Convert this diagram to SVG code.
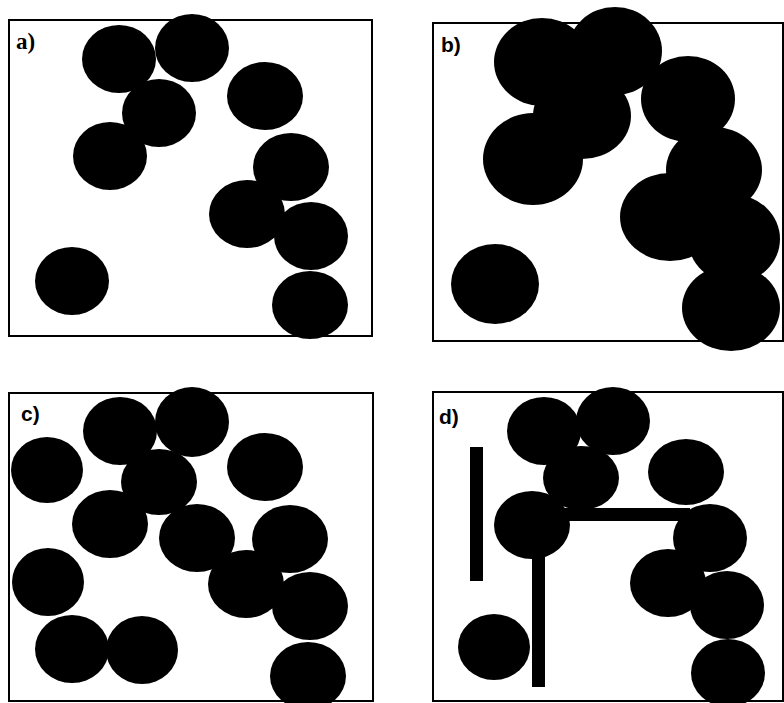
<svg xmlns="http://www.w3.org/2000/svg" width="784" height="703" viewBox="0 0 784 703">
<style>
.frame{fill:none;stroke:#000;stroke-width:2}
.p{fill:#000}
.bar{fill:#000}
.lbl{font-family:"Liberation Sans",Arial,sans-serif;font-weight:bold;font-size:21px;fill:#000}
.lbla{font-family:"Liberation Serif","Times New Roman",serif;font-weight:bold;font-size:23px;fill:#000}
</style>
<rect width="784" height="703" fill="#fff"/>
<g id="panel-a">
<rect class="frame" x="9" y="20" width="363" height="316"/>
<text class="lbla" x="16" y="49">a)</text>
<g class="p">
<ellipse cx="119" cy="59" rx="37" ry="34"/>
<ellipse cx="192" cy="48" rx="37" ry="34"/>
<ellipse cx="159" cy="113" rx="37" ry="34"/>
<ellipse cx="110" cy="156" rx="37" ry="34"/>
<ellipse cx="265" cy="96" rx="38" ry="34"/>
<ellipse cx="291" cy="167" rx="38" ry="34"/>
<ellipse cx="247" cy="214" rx="38" ry="34"/>
<ellipse cx="311" cy="236" rx="37" ry="34"/>
<ellipse cx="310" cy="305" rx="38" ry="34"/>
<ellipse cx="72" cy="281" rx="37" ry="34"/>
</g>
</g>
<g id="panel-b">
<rect class="frame" x="433" y="23" width="350" height="318"/>
<text class="lbl" x="441" y="52">b)</text>
<g class="p">
<ellipse cx="542" cy="62" rx="48" ry="44"/>
<ellipse cx="615" cy="51" rx="47" ry="44"/>
<ellipse cx="582" cy="116" rx="49" ry="43"/>
<ellipse cx="533" cy="159" rx="50" ry="46"/>
<ellipse cx="688" cy="99" rx="47" ry="43"/>
<ellipse cx="714" cy="170" rx="48" ry="43"/>
<ellipse cx="670" cy="217" rx="50" ry="44"/>
<ellipse cx="734" cy="239" rx="46" ry="44"/>
<ellipse cx="731" cy="308" rx="49" ry="43"/>
<ellipse cx="495" cy="284" rx="44" ry="40"/>
</g>
</g>
<g id="panel-c">
<rect class="frame" x="9" y="393" width="364" height="308"/>
<text class="lbl" x="21" y="421">c)</text>
<g class="p">
<ellipse cx="120" cy="431" rx="37" ry="34"/>
<ellipse cx="192" cy="422" rx="37" ry="35"/>
<ellipse cx="47" cy="470" rx="36" ry="33"/>
<ellipse cx="265" cy="467" rx="38" ry="34"/>
<ellipse cx="159" cy="482" rx="38" ry="33"/>
<ellipse cx="110" cy="524" rx="38" ry="34"/>
<ellipse cx="197" cy="538" rx="38" ry="34"/>
<ellipse cx="290" cy="539" rx="38" ry="34"/>
<ellipse cx="246" cy="584" rx="38" ry="34"/>
<ellipse cx="310" cy="606" rx="38" ry="34"/>
<ellipse cx="48" cy="582" rx="36" ry="34"/>
<ellipse cx="72" cy="649" rx="37" ry="34"/>
<ellipse cx="142" cy="650" rx="36" ry="34"/>
<ellipse cx="308" cy="676" rx="38" ry="34"/>
</g>
</g>
<g id="panel-d">
<rect class="frame" x="433" y="392" width="350" height="309"/>
<text class="lbl" x="439" y="424">d)</text>
<g class="p">
<ellipse cx="544" cy="431" rx="37" ry="34"/>
<ellipse cx="613" cy="421" rx="37" ry="34"/>
<ellipse cx="581" cy="478" rx="38" ry="32"/>
<ellipse cx="532" cy="525" rx="38" ry="34"/>
<ellipse cx="686" cy="472" rx="38" ry="33"/>
<ellipse cx="710" cy="538" rx="37" ry="34"/>
<ellipse cx="668" cy="583" rx="38" ry="34"/>
<ellipse cx="727" cy="605" rx="37" ry="34"/>
<ellipse cx="728" cy="673" rx="37" ry="34"/>
<ellipse cx="494" cy="647" rx="36" ry="33"/>
</g>
<g class="bar">
<rect x="470" y="447" width="13" height="134"/>
<rect x="560" y="508" width="130" height="13"/>
<rect x="532" y="545" width="13" height="142"/>
</g>
</g>
</svg>
